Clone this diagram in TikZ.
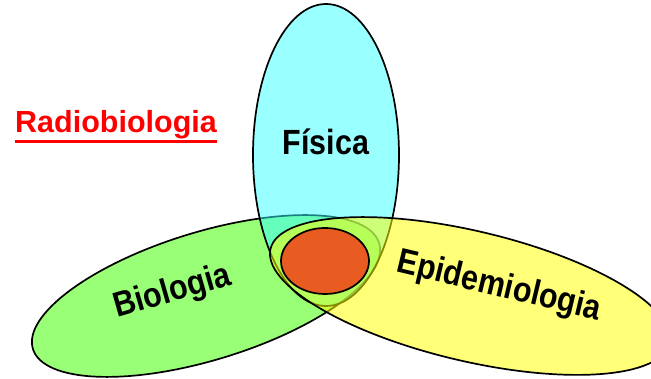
\documentclass[tikz,border=0pt]{standalone}
\usepackage{fontspec}
\setmainfont{Liberation Sans}
\newfontfamily\narrowsf{Liberation Sans}[FakeStretch=0.87]
\usepackage{tikz}
\definecolor{fisica}{HTML}{33FFFF}
\definecolor{biologia}{HTML}{99FF77}
\definecolor{epidemio}{HTML}{FFFF00}
\definecolor{nucleo}{HTML}{E85C22}

\begin{document}
\begin{tikzpicture}[
  x=1pt, y=1pt,
  field/.style={draw, line width=1.7pt},
  area/.style={font=\narrowsf\bfseries\fontsize{35}{40}\selectfont, anchor=base,
    inner sep=0pt}
]
  \useasboundingbox (0,0) rectangle (651,379);
  \clip (0,0) rectangle (651,379);

  \coordinate (bio) at (206,83);
  \coordinate (fis) at (326,224);
  \coordinate (epi) at (470,83);
  \coordinate (core) at (325,118);

  % green first, cyan and yellow laid over it half see-through
  \draw[field, fill=biologia] (bio) ellipse [x radius=181pt, y radius=64pt, rotate=17];
  \draw[field, fill=fisica, fill opacity=0.5] (fis) ellipse [x radius=73pt, y radius=151pt];
  \draw[field, fill=epidemio, fill opacity=0.53] (epi) ellipse [x radius=205pt, y radius=65pt, rotate=-13.3];
  \draw[field, fill=nucleo] (core) ellipse [x radius=44pt, y radius=33pt];

  \node[area] (fisLabel) at (326,224) {Física};
  \node[area, rotate=16] (bioLabel) at (175,78) {Biologia};
  \node[area, rotate=-13.4] (epiLabel) at (497,83) {Epidemiologia};

  \node[anchor=base west, inner sep=0pt, text=red,
    font=\bfseries\fontsize{30.5}{36}\selectfont] (title) at (15,246) {Radiobiologia};
  \draw[red, line width=3pt] ([yshift=-8.4pt]title.base west) -- ([yshift=-8.4pt]title.base east);
\end{tikzpicture}
\end{document}
